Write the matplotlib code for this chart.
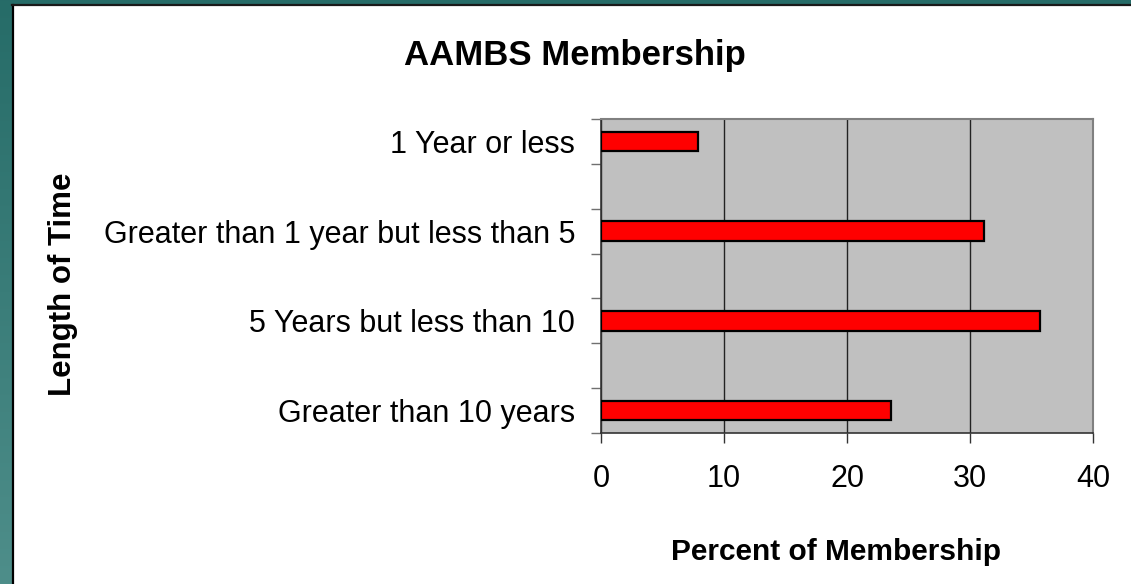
import matplotlib
matplotlib.use("Agg")
import matplotlib.pyplot as plt
import numpy as np
from matplotlib.patches import Rectangle

plt.rcParams['font.family'] = ['Liberation Sans', 'DejaVu Sans']

categories = ["1 Year or less",
              "Greater than 1 year but less than 5",
              "5 Years but less than 10",
              "Greater than 10 years"]
percent = [7.9, 31.1, 35.7, 23.6]
x_ticks = [0, 10, 20, 30, 40]

W, H = 1131, 584
fig = plt.figure(figsize=(W / 100, H / 100), dpi=100)

# slide background: teal frame with white chart area
bg = fig.add_axes([0, 0, 1, 1], zorder=-10)
bg.set_xlim(0, W)
bg.set_ylim(H, 0)
bg.axis('off')
grad = np.linspace(0, 1, 256)[:, None]
top_c = np.array([38, 108, 104]) / 255
bot_c = np.array([78, 142, 138]) / 255
img = top_c[None, None, :] * (1 - grad[:, :, None]) + bot_c[None, None, :] * grad[:, :, None]
bg.imshow(img, extent=[0, W, H, 0], aspect='auto')
bg.add_patch(Rectangle((13, 6), W - 13, H - 6, facecolor='white', edgecolor='none'))
bg.plot([12.5, 12.5], [5, H], color='black', lw=1.6)
bg.plot([12, W], [5, 5], color='#1a1a1a', lw=1.6)

# plot area
L, R, T, B = 601, 1093, 119, 433
ax = fig.add_axes([L / W, 1 - B / H, (R - L) / W, (B - T) / H])
ax.set_facecolor('#c0c0c0')

n_slots = 2 * len(categories) - 1
pos = [2 * i for i in range(len(categories))]
ax.barh(pos, percent, height=0.43, color='#ff0000', edgecolor='black',
        linewidth=1.6, zorder=3)

ax.set_xlim(0, 40)
ax.set_ylim(n_slots - 0.5, -0.5)
ax.set_xticks(x_ticks)
ax.set_xticklabels([str(v) for v in x_ticks], fontsize=22)
ax.set_yticks(pos)
ax.set_yticklabels(categories, fontsize=22)
ax.set_yticks(np.arange(-0.5, n_slots, 1.0), minor=True)
ax.tick_params(axis='y', which='major', length=0, pad=18.5)
ax.tick_params(axis='y', which='minor', length=7, width=1, color='#707070')
ax.tick_params(axis='x', which='major', length=7, width=1, color='#333333', pad=15)

ax.grid(axis='x', color='#222222', linewidth=1, zorder=1)
ax.set_axisbelow(True)
for side in ('top', 'right'):
    ax.spines[side].set_color('#808080')
    ax.spines[side].set_linewidth(1.5)
ax.spines['left'].set_color('#333333')
ax.spines['bottom'].set_color('#333333')
ax.spines['left'].set_linewidth(1.2)
ax.spines['bottom'].set_linewidth(1.2)

fig.text(575 / W, 1 - 55 / H, "AAMBS Membership", ha='center', va='center',
         fontsize=25, fontweight='bold')
fig.text(836 / W, 1 - 552 / H, "Percent of Membership", ha='center', va='center',
         fontsize=21.5, fontweight='bold')
fig.text(63 / W, 1 - 284 / H, "Length of Time", ha='center', va='center',
         rotation=90, fontsize=22.5, fontweight='bold')

fig.savefig("out.png", dpi=100)
